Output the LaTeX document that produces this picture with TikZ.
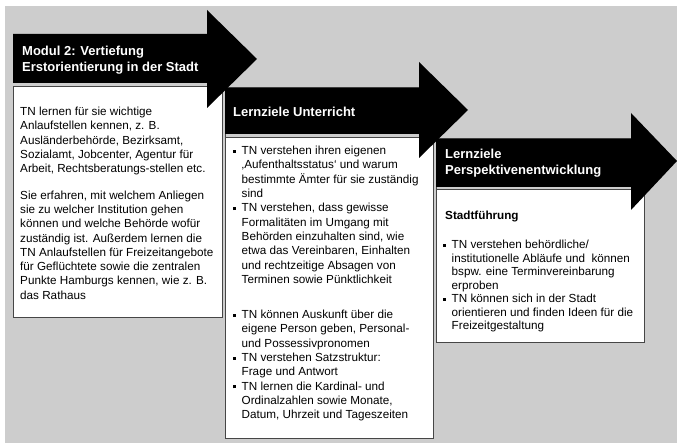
\documentclass[tikz,border=0pt]{standalone}
\usepackage{fontspec}
\setmainfont{Liberation Sans}
\definecolor{bggray}{RGB}{205,205,205}
\definecolor{boxline}{RGB}{70,70,70}
\newcommand\bulmark{\makebox[8.5pt][l]{\rule[0.28ex]{3pt}{3pt}}}
\newcommand\bulindent{\hspace*{8.5pt}}
\begin{document}
\begin{tikzpicture}[x=1pt,y=-1pt,
  arrowshape/.style={fill=black,draw=none},
  panel/.style={fill=white,draw=boxline,line width=1pt},
  hdrtext/.style={anchor=west,align=left,inner sep=0,text=white,
    font=\fontsize{13}{16}\selectfont\bfseries},
  bodytext/.style={anchor=north west,align=left,inner sep=0,
    font=\fontsize{11.7}{14.3}\selectfont},
  tighttext/.style={bodytext,font=\fontsize{11.7}{13.5}\selectfont}]
\useasboundingbox (0,0) rectangle (677,443);
\fill[white] (0,0) rectangle (677,443);
\fill[bggray] (5,6) rectangle (677,443);

% content panels
\draw[panel] (13,87) rectangle (222,318);
\draw[panel] (225,88) rectangle (433,438);
\draw[panel] (436,139) rectangle (644,343);
\fill[bggray] (226,134) rectangle (432,137);
\draw[boxline,line width=0.8pt] (226,137.5) -- (432,137.5);
\fill[bggray] (437,187) rectangle (643,189);
\draw[boxline,line width=0.8pt] (437,189.5) -- (643,189.5);

% block arrows carrying the column titles
\fill[arrowshape] (13,34) -- (207,34) -- (207,10) -- (257,59)
  -- (207,108) -- (207,83) -- (13,83) -- cycle;
\fill[arrowshape] (225,88) -- (419,88) -- (419,62) -- (468,110)
  -- (419,158) -- (419,134) -- (225,134) -- cycle;
\fill[arrowshape] (436,139) -- (631,139) -- (631,113) -- (677,161)
  -- (631,210) -- (631,187) -- (436,187) -- cycle;

\node[hdrtext] (t1) at (22,60) {Modul 2: Vertiefung\\Erstorientierung in der Stadt};
\node[hdrtext] (t2) at (233,112) {Lernziele Unterricht};
\node[hdrtext] (t3) at (445,163) {Lernziele\\Perspektivenentwicklung};

\node[bodytext] (b1) at (20,107) {TN lernen für sie wichtige\\
Anlaufstellen kennen, z. B.\\
Ausländerbehörde, Bezirksamt,\\
Sozialamt, Jobcenter, Agentur für\\
Arbeit, Rechtsberatungs-stellen etc.\\[12pt]
Sie erfahren, mit welchem Anliegen\\
sie zu welcher Institution gehen\\
können und welche Behörde wofür\\
zuständig ist. Außerdem lernen die\\
TN Anlaufstellen für Freizeitangebote\\
für Geflüchtete sowie die zentralen\\
Punkte Hamburgs kennen, wie z. B.\\
das Rathaus};

\node[bodytext] (b2) at (233,146) {\bulmark TN verstehen ihren eigenen\\
\bulindent ‚Aufenthaltsstatus‘ und warum\\
\bulindent bestimmte Ämter für sie zuständig\\
\bulindent sind\\
\bulmark TN verstehen, dass gewisse\\
\bulindent Formalitäten im Umgang mit\\
\bulindent Behörden einzuhalten sind, wie\\
\bulindent etwa das Vereinbaren, Einhalten\\
\bulindent und rechtzeitige Absagen von\\
\bulindent Terminen sowie Pünktlichkeit\\[21pt]
\bulmark TN können Auskunft über die\\
\bulindent eigene Person geben, Personal-\\
\bulindent und Possessivpronomen\\
\bulmark TN verstehen Satzstruktur:\\
\bulindent Frage und Antwort\\
\bulmark TN lernen die Kardinal- und\\
\bulindent Ordinalzahlen sowie Monate,\\
\bulindent Datum, Uhrzeit und Tageszeiten};

\node[bodytext] (b3h) at (445,211) {\bfseries Stadtführung};
\node[tighttext] (b3) at (443,240) {\bulmark TN verstehen behördliche/\\
\bulindent institutionelle Abläufe und\ \ können\\
\bulindent bspw. eine Terminvereinbarung\\
\bulindent erproben\\
\bulmark TN können sich in der Stadt\\
\bulindent orientieren und finden Ideen für die\\
\bulindent Freizeitgestaltung};
\end{tikzpicture}
\end{document}
